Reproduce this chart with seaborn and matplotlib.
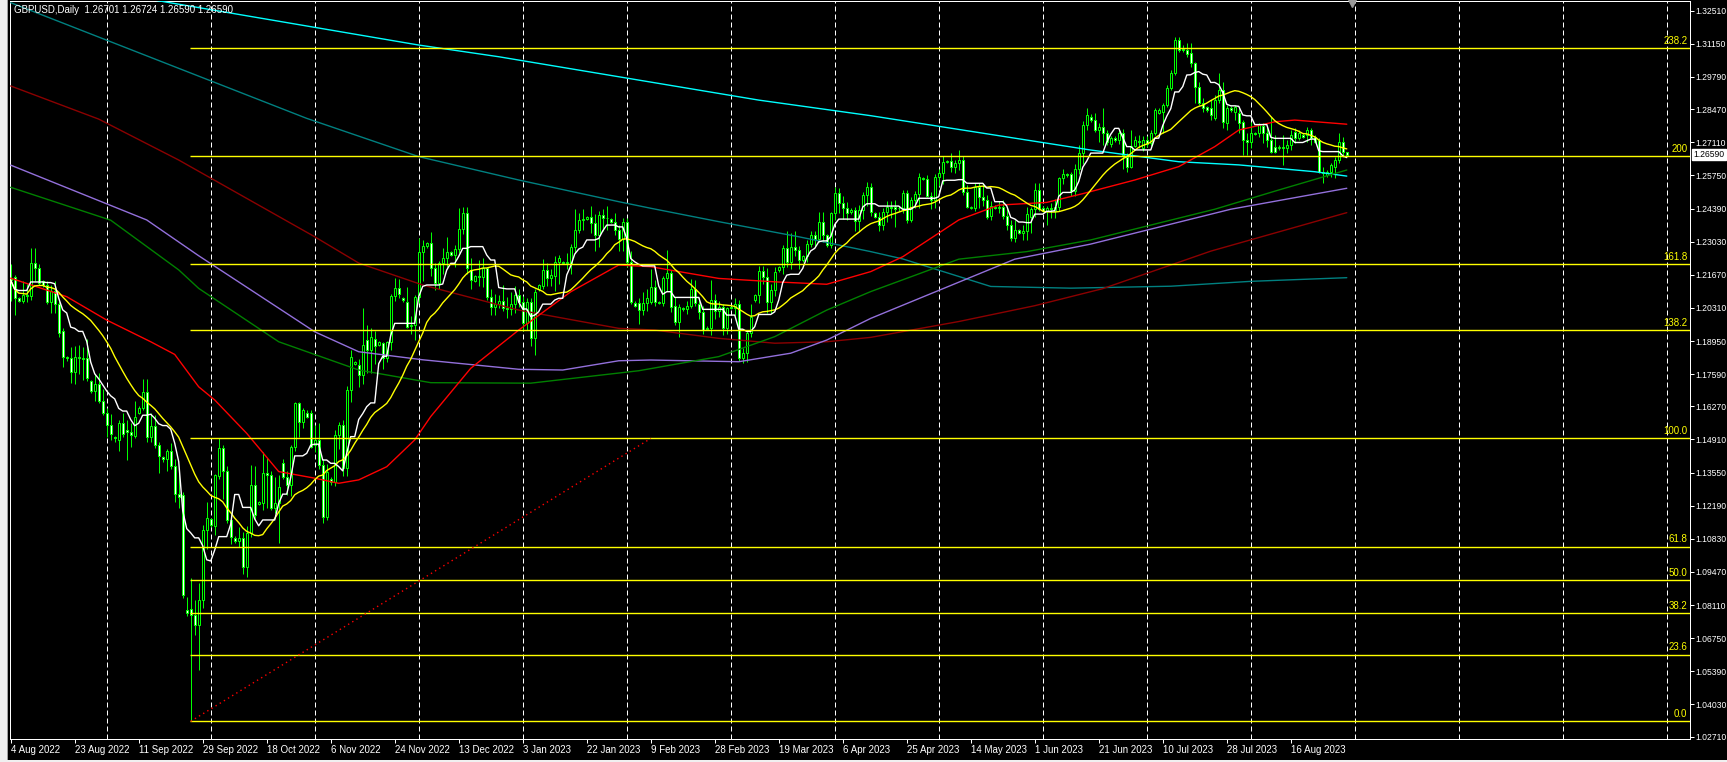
import numpy as np
import pandas as pd
import matplotlib
matplotlib.use("Agg")
from matplotlib import pyplot as plt
import matplotlib.transforms as mtrans
from matplotlib.patches import Rectangle
import seaborn as sns

# daily bars, bar 0 = 4 Aug 2022 (broker has Sunday bars)
opens = [
    1.2150, 1.2159, 1.2070, 1.2060, 1.2085, 1.2078, 1.2215, 1.2195, 1.2140, 1.2125,
    1.2055, 1.2100, 1.2045, 1.1935, 1.1830, 1.1825, 1.1769, 1.1830, 1.1825, 1.1824,
    1.1730, 1.1690, 1.1720, 1.1650, 1.1600, 1.1550, 1.1500, 1.1490, 1.1560, 1.1530,
    1.1520, 1.1505, 1.1600, 1.1620, 1.1686, 1.1500, 1.1545, 1.1470, 1.1420, 1.1410,
    1.1445, 1.1380, 1.1265, 1.1263, 1.0790, 1.0797, 1.0770, 1.0729, 1.0832, 1.1120,
    1.1165, 1.1135, 1.1340, 1.1455, 1.1360, 1.1160, 1.1085, 1.1075, 1.1085, 1.0969,
    1.1106, 1.1304, 1.1225, 1.1230, 1.1352, 1.1345, 1.1210, 1.1229, 1.1393, 1.1338,
    1.1304, 1.1461, 1.1639, 1.1564, 1.1600, 1.1598, 1.1468, 1.1489, 1.1386, 1.1174,
    1.1330, 1.1318, 1.1509, 1.1550, 1.1372, 1.1694, 1.1800, 1.1796, 1.1755, 1.1900,
    1.1858, 1.1905, 1.1880, 1.1886, 1.1824, 1.1892, 1.2080, 1.2111, 1.2070, 1.2057,
    1.1955, 1.1962, 1.2077, 1.2262, 1.2285, 1.2296, 1.2194, 1.2132, 1.2214, 1.2235,
    1.2262, 1.2250, 1.2271, 1.2353, 1.2419, 1.2187, 1.2143, 1.2160, 1.2157, 1.2193,
    1.2077, 1.2036, 1.2048, 1.2058, 1.2030, 1.2025, 1.2045, 1.2085, 1.2057, 1.1968,
    1.2057, 1.1906, 1.2110, 1.2120, 1.2187, 1.2153, 1.2160, 1.2220, 1.2220, 1.2215,
    1.2210, 1.2282, 1.2351, 1.2390, 1.2396, 1.2405, 1.2378, 1.2330, 1.2412, 1.2400,
    1.2395, 1.2385, 1.2350, 1.2315, 1.2385, 1.2220, 1.2050, 1.2050, 1.2022, 1.2050,
    1.2057, 1.2118, 1.2055, 1.2050, 1.2152, 1.2173, 1.2040, 1.1975, 1.2030, 1.2025,
    1.2040, 1.2110, 1.2047, 1.2015, 1.1950, 1.1950, 1.2063, 1.2020, 1.2035, 1.1947,
    1.2035, 1.2032, 1.2045, 1.1824, 1.1846, 1.1926, 1.2063, 1.2084, 1.2184, 1.2159,
    1.2056, 1.2104, 1.2185, 1.2200, 1.2275, 1.2221, 1.2282, 1.2270, 1.2228, 1.2245,
    1.2295, 1.2330, 1.2315, 1.2384, 1.2330, 1.2290, 1.2419, 1.2501, 1.2460, 1.2440,
    1.2425, 1.2433, 1.2389, 1.2433, 1.2494, 1.2529, 1.2420, 1.2405, 1.2370, 1.2426,
    1.2445, 1.2445, 1.2440, 1.2440, 1.2501, 1.2392, 1.2474, 1.2500, 1.2565, 1.2560,
    1.2490, 1.2475, 1.2570, 1.2583, 1.2630, 1.2635, 1.2610, 1.2625, 1.2640, 1.2508,
    1.2440, 1.2440, 1.2528, 1.2488, 1.2475, 1.2410, 1.2445, 1.2440, 1.2445, 1.2410,
    1.2371, 1.2317, 1.2350, 1.2340, 1.2345, 1.2405, 1.2435, 1.2515, 1.2440, 1.2430,
    1.2440, 1.2430, 1.2445, 1.2563, 1.2580, 1.2580, 1.2510, 1.2600, 1.2665, 1.2782,
    1.2816, 1.2802, 1.2762, 1.2775, 1.2748, 1.2704, 1.2727, 1.2720, 1.2750, 1.2652,
    1.2611, 1.2696, 1.2715, 1.2686, 1.2720, 1.2707, 1.2748, 1.2832, 1.2836, 1.2864,
    1.2932, 1.2994, 1.3131, 1.3092, 1.3090, 1.3076, 1.3035, 1.2939, 1.2871, 1.2854,
    1.2850, 1.2809, 1.2884, 1.2926, 1.2791, 1.2850, 1.2836, 1.2830, 1.2795, 1.2720,
    1.2713, 1.2748, 1.2748, 1.2778, 1.2748, 1.2720, 1.2690, 1.2686, 1.2693, 1.2686,
    1.2700, 1.2755, 1.2727, 1.2741, 1.2741, 1.2762, 1.2734, 1.2720, 1.2590, 1.2576,
    1.2590, 1.2611, 1.2638, 1.2713, 1.2670,
]
highs = [
    1.2213, 1.2165, 1.2075, 1.2140, 1.2130, 1.2276, 1.2276, 1.2210, 1.2145, 1.2140,
    1.2125, 1.2140, 1.2060, 1.1950, 1.1835, 1.1872, 1.1875, 1.1880, 1.1870, 1.1905,
    1.1735, 1.1760, 1.1762, 1.1700, 1.1620, 1.1595, 1.1505, 1.1570, 1.1600, 1.1570,
    1.1560, 1.1650, 1.1630, 1.1738, 1.1740, 1.1600, 1.1590, 1.1480, 1.1425, 1.1450,
    1.1475, 1.1410, 1.1375, 1.1275, 1.0845, 1.0921, 1.0830, 1.0900, 1.1140, 1.1236,
    1.1170, 1.1350, 1.1495, 1.1470, 1.1380, 1.1180, 1.1095, 1.1133, 1.1110, 1.1135,
    1.1385, 1.1380, 1.1240, 1.1441, 1.1413, 1.1360, 1.1338, 1.1345, 1.1410, 1.1360,
    1.1470, 1.1646, 1.1646, 1.1622, 1.1610, 1.1610, 1.1550, 1.1560, 1.1410, 1.1390,
    1.1335, 1.1530, 1.1563, 1.1570, 1.1710, 1.1858, 1.1815, 1.1820, 1.2029, 1.1961,
    1.1950, 1.1935, 1.1895, 1.1890, 1.1895, 1.2090, 1.2153, 1.2150, 1.2075, 1.2118,
    1.1998, 1.2085, 1.2317, 1.2309, 1.2300, 1.2344, 1.2215, 1.2225, 1.2275, 1.2320,
    1.2265, 1.2290, 1.2440, 1.2447, 1.2445, 1.2235, 1.2165, 1.2227, 1.2235, 1.2200,
    1.2110, 1.2090, 1.2085, 1.2125, 1.2075, 1.2095, 1.2120, 1.2110, 1.2080, 1.2070,
    1.2070, 1.2110, 1.2130, 1.2230, 1.2215, 1.2190, 1.2245, 1.2247, 1.2225, 1.2255,
    1.2295, 1.2436, 1.2420, 1.2436, 1.2410, 1.2449, 1.2415, 1.2430, 1.2435, 1.2450,
    1.2400, 1.2420, 1.2370, 1.2400, 1.2400, 1.2265, 1.2060, 1.2070, 1.2098, 1.2110,
    1.2190, 1.2145, 1.2060, 1.2160, 1.2269, 1.2185, 1.2075, 1.2045, 1.2035, 1.2060,
    1.2150, 1.2145, 1.2075, 1.2040, 1.1955, 1.2145, 1.2090, 1.2060, 1.2045, 1.2035,
    1.2040, 1.2070, 1.2065, 1.1865, 1.1940, 1.2045, 1.2090, 1.2205, 1.2205, 1.2195,
    1.2130, 1.2200, 1.2205, 1.2290, 1.2345, 1.2337, 1.2345, 1.2285, 1.2250, 1.2310,
    1.2345, 1.2345, 1.2426, 1.2425, 1.2335, 1.2425, 1.2526, 1.2525, 1.2490, 1.2465,
    1.2440, 1.2445, 1.2455, 1.2505, 1.2549, 1.2545, 1.2425, 1.2425, 1.2440, 1.2470,
    1.2470, 1.2475, 1.2450, 1.2515, 1.2515, 1.2485, 1.2510, 1.2583, 1.2570, 1.2575,
    1.2505, 1.2580, 1.2600, 1.2654, 1.2640, 1.2668, 1.2640, 1.2680, 1.2655, 1.2535,
    1.2450, 1.2545, 1.2545, 1.2545, 1.2495, 1.2470, 1.2455, 1.2470, 1.2475, 1.2440,
    1.2390, 1.2390, 1.2355, 1.2370, 1.2445, 1.2445, 1.2545, 1.2545, 1.2450, 1.2450,
    1.2460, 1.2480, 1.2570, 1.2600, 1.2585, 1.2590, 1.2620, 1.2700, 1.2800, 1.2850,
    1.2825, 1.2830, 1.2790, 1.2850, 1.2760, 1.2735, 1.2735, 1.2760, 1.2765, 1.2665,
    1.2762, 1.2735, 1.2741, 1.2735, 1.2735, 1.2760, 1.2850, 1.2850, 1.2871, 1.2946,
    1.3008, 1.3144, 1.3144, 1.3110, 1.3117, 1.3117, 1.3042, 1.2960, 1.2891, 1.2860,
    1.2884, 1.2905, 1.2994, 1.2960, 1.2864, 1.2860, 1.2864, 1.2850, 1.2802, 1.2748,
    1.2795, 1.2755, 1.2789, 1.2789, 1.2775, 1.2816, 1.2741, 1.2700, 1.2741, 1.2720,
    1.2762, 1.2768, 1.2760, 1.2750, 1.2775, 1.2768, 1.2741, 1.2727, 1.2611, 1.2597,
    1.2624, 1.2652, 1.2748, 1.2734, 1.2672,
]
lows = [
    1.2060, 1.2002, 1.2055, 1.2050, 1.2055, 1.2065, 1.2140, 1.2125, 1.2115, 1.2045,
    1.2009, 1.2010, 1.1910, 1.1790, 1.1815, 1.1721, 1.1720, 1.1760, 1.1735, 1.1730,
    1.1680, 1.1650, 1.1640, 1.1590, 1.1500, 1.1490, 1.1480, 1.1445, 1.1500, 1.1405,
    1.1460, 1.1495, 1.1595, 1.1610, 1.1480, 1.1480, 1.1455, 1.1352, 1.1400, 1.1360,
    1.1370, 1.1235, 1.1210, 1.0840, 1.0765, 1.0334, 1.0690, 1.0545, 1.0800, 1.1040,
    1.1130, 1.1100, 1.1330, 1.1245, 1.1150, 1.1060, 1.1065, 1.1050, 1.0940, 1.0925,
    1.1090, 1.1160, 1.1220, 1.1200, 1.1208, 1.1200, 1.1188, 1.1064, 1.1330, 1.1263,
    1.1260, 1.1445, 1.1502, 1.1540, 1.1580, 1.1455, 1.1440, 1.1370, 1.1150, 1.1160,
    1.1305, 1.1300, 1.1450, 1.1340, 1.1340, 1.1646, 1.1795, 1.1708, 1.1720, 1.1765,
    1.1765, 1.1800, 1.1875, 1.1780, 1.1810, 1.1860, 1.2060, 1.2070, 1.2055, 1.1947,
    1.1925, 1.1900, 1.2050, 1.2140, 1.2275, 1.2160, 1.2106, 1.2110, 1.2170, 1.2200,
    1.2245, 1.2200, 1.2255, 1.2335, 1.2170, 1.2110, 1.2138, 1.2120, 1.2118, 1.2065,
    1.2000, 1.2000, 1.2030, 1.2020, 1.1990, 1.2000, 1.2010, 1.2035, 1.1935, 1.1940,
    1.1875, 1.1838, 1.2100, 1.2110, 1.2120, 1.2120, 1.2100, 1.2130, 1.2210, 1.2190,
    1.2170, 1.2255, 1.2340, 1.2350, 1.2390, 1.2340, 1.2265, 1.2280, 1.2345, 1.2350,
    1.2380, 1.2330, 1.2265, 1.2265, 1.2200, 1.2045, 1.2035, 1.1965, 1.2002, 1.2020,
    1.2045, 1.2040, 1.2045, 1.2040, 1.2100, 1.2015, 1.1960, 1.1913, 1.2020, 1.2005,
    1.2030, 1.2040, 1.1985, 1.1925, 1.1940, 1.1920, 1.1985, 1.1995, 1.1920, 1.1925,
    1.2028, 1.2000, 1.1815, 1.1803, 1.1810, 1.1910, 1.2055, 1.2050, 1.2130, 1.2009,
    1.2010, 1.2080, 1.2180, 1.2170, 1.2200, 1.2190, 1.2245, 1.2190, 1.2220, 1.2220,
    1.2280, 1.2285, 1.2300, 1.2300, 1.2280, 1.2275, 1.2390, 1.2419, 1.2395, 1.2390,
    1.2415, 1.2345, 1.2345, 1.2395, 1.2450, 1.2410, 1.2400, 1.2345, 1.2350, 1.2385,
    1.2400, 1.2365, 1.2430, 1.2420, 1.2380, 1.2385, 1.2440, 1.2440, 1.2555, 1.2485,
    1.2435, 1.2440, 1.2530, 1.2540, 1.2625, 1.2590, 1.2585, 1.2597, 1.2495, 1.2440,
    1.2435, 1.2430, 1.2440, 1.2450, 1.2395, 1.2390, 1.2435, 1.2420, 1.2395, 1.2350,
    1.2305, 1.2300, 1.2335, 1.2310, 1.2310, 1.2340, 1.2405, 1.2430, 1.2425, 1.2371,
    1.2400, 1.2400, 1.2430, 1.2540, 1.2570, 1.2490, 1.2490, 1.2580, 1.2620, 1.2760,
    1.2795, 1.2755, 1.2713, 1.2700, 1.2700, 1.2690, 1.2710, 1.2705, 1.2600, 1.2590,
    1.2604, 1.2690, 1.2686, 1.2675, 1.2690, 1.2695, 1.2741, 1.2825, 1.2748, 1.2855,
    1.2926, 1.2987, 1.3083, 1.3083, 1.3062, 1.3021, 1.2871, 1.2864, 1.2836, 1.2836,
    1.2802, 1.2802, 1.2871, 1.2768, 1.2760, 1.2836, 1.2802, 1.2748, 1.2659, 1.2659,
    1.2686, 1.2740, 1.2734, 1.2707, 1.2693, 1.2665, 1.2665, 1.2680, 1.2618, 1.2665,
    1.2679, 1.2707, 1.2720, 1.2730, 1.2713, 1.2700, 1.2707, 1.2583, 1.2542, 1.2570,
    1.2570, 1.2563, 1.2624, 1.2652, 1.2659,
]
closes = [
    1.2145, 1.2070, 1.2060, 1.2085, 1.2078, 1.2215, 1.2195, 1.2135, 1.2125, 1.2055,
    1.2100, 1.2045, 1.1927, 1.1831, 1.1825, 1.1769, 1.1830, 1.1825, 1.1820, 1.1742,
    1.1690, 1.1720, 1.1650, 1.1600, 1.1550, 1.1515, 1.1495, 1.1560, 1.1515, 1.1520,
    1.1510, 1.1585, 1.1620, 1.1686, 1.1503, 1.1545, 1.1470, 1.1425, 1.1410, 1.1445,
    1.1380, 1.1265, 1.1255, 1.0853, 1.0780, 1.0770, 1.0729, 1.0832, 1.1120, 1.1167,
    1.1140, 1.1345, 1.1455, 1.1360, 1.1160, 1.1092, 1.1075, 1.1085, 1.0969, 1.1106,
    1.1304, 1.1181, 1.1236, 1.1352, 1.1345, 1.1208, 1.1229, 1.1297, 1.1338, 1.1304,
    1.1461, 1.1639, 1.1564, 1.1612, 1.1585, 1.1461, 1.1489, 1.1386, 1.1174, 1.1359,
    1.1315, 1.1509, 1.1550, 1.1372, 1.1694, 1.1831, 1.1810, 1.1755, 1.1879, 1.1858,
    1.1910, 1.1876, 1.1890, 1.1824, 1.1892, 1.2080, 1.2111, 1.2090, 1.2065, 1.1954,
    1.1962, 1.2077, 1.2262, 1.2285, 1.2296, 1.2194, 1.2132, 1.2214, 1.2235, 1.2262,
    1.2250, 1.2271, 1.2353, 1.2419, 1.2193, 1.2146, 1.2162, 1.2157, 1.2193, 1.2077,
    1.2036, 1.2048, 1.2058, 1.2030, 1.2025, 1.2045, 1.2085, 1.2057, 1.1968, 1.2057,
    1.1906, 1.2097, 1.2125, 1.2187, 1.2153, 1.2165, 1.2220, 1.2235, 1.2215, 1.2220,
    1.2282, 1.2351, 1.2392, 1.2396, 1.2405, 1.2378, 1.2330, 1.2412, 1.2400, 1.2398,
    1.2385, 1.2350, 1.2315, 1.2385, 1.2220, 1.2055, 1.2040, 1.2022, 1.2050, 1.2070,
    1.2118, 1.2057, 1.2050, 1.2152, 1.2173, 1.2036, 1.1975, 1.2035, 1.2025, 1.2040,
    1.2110, 1.2050, 1.2015, 1.1940, 1.1945, 1.2063, 1.2020, 1.2035, 1.1947, 1.2030,
    1.2032, 1.2045, 1.1824, 1.1846, 1.1926, 1.1995, 1.2084, 1.2184, 1.2159, 1.2056,
    1.2104, 1.2180, 1.2200, 1.2275, 1.2221, 1.2282, 1.2270, 1.2228, 1.2245, 1.2295,
    1.2330, 1.2315, 1.2384, 1.2330, 1.2290, 1.2419, 1.2501, 1.2460, 1.2440, 1.2420,
    1.2433, 1.2389, 1.2433, 1.2494, 1.2528, 1.2426, 1.2405, 1.2370, 1.2426, 1.2445,
    1.2440, 1.2435, 1.2442, 1.2501, 1.2392, 1.2474, 1.2500, 1.2570, 1.2560, 1.2490,
    1.2475, 1.2570, 1.2583, 1.2631, 1.2635, 1.2610, 1.2625, 1.2640, 1.2508, 1.2446,
    1.2445, 1.2528, 1.2488, 1.2475, 1.2406, 1.2450, 1.2440, 1.2445, 1.2410, 1.2371,
    1.2317, 1.2350, 1.2340, 1.2345, 1.2415, 1.2435, 1.2515, 1.2435, 1.2430, 1.2440,
    1.2435, 1.2445, 1.2563, 1.2580, 1.2578, 1.2510, 1.2600, 1.2665, 1.2782, 1.2823,
    1.2802, 1.2762, 1.2775, 1.2748, 1.2713, 1.2727, 1.2720, 1.2748, 1.2659, 1.2611,
    1.2696, 1.2720, 1.2710, 1.2720, 1.2704, 1.2748, 1.2843, 1.2845, 1.2864, 1.2932,
    1.2994, 1.3131, 1.3090, 1.3090, 1.3072, 1.3035, 1.2939, 1.2871, 1.2850, 1.2843,
    1.2823, 1.2884, 1.2926, 1.2795, 1.2850, 1.2845, 1.2854, 1.2791, 1.2720, 1.2713,
    1.2748, 1.2745, 1.2782, 1.2748, 1.2720, 1.2672, 1.2672, 1.2693, 1.2686, 1.2700,
    1.2741, 1.2727, 1.2748, 1.2734, 1.2762, 1.2727, 1.2713, 1.2590, 1.2583, 1.2590,
    1.2618, 1.2638, 1.2713, 1.2672, 1.2659,
]

date_labels = [
    "4 Aug 2022", "23 Aug 2022", "11 Sep 2022", "29 Sep 2022", "18 Oct 2022",
    "6 Nov 2022", "24 Nov 2022", "13 Dec 2022", "3 Jan 2023", "22 Jan 2023",
    "9 Feb 2023", "28 Feb 2023", "19 Mar 2023", "6 Apr 2023", "25 Apr 2023",
    "14 May 2023", "1 Jun 2023", "21 Jun 2023", "10 Jul 2023", "28 Jul 2023",
    "16 Aug 2023",
]
price_labels = [
    "1.32510", "1.31150", "1.29790", "1.28470", "1.27110", "1.25750", "1.24390",
    "1.23030", "1.21670", "1.20310", "1.18950", "1.17590", "1.16270", "1.14910",
    "1.13550", "1.12190", "1.10830", "1.09470", "1.08110", "1.06750", "1.05390",
    "1.04030", "1.02710",
]

# fibonacci tool: anchored on the 26 Sep low and the 4 Oct high
fib_levels = ["0.0", "23.6", "38.2", "50.0", "61.8", "100.0", "138.2", "161.8", "200", "238.2"]
fib_start_bar, fib_end_bar = 45, 160

# moving averages (bar index, price)
red_bars = [0, 14, 24, 35, 41, 47, 51, 59, 67, 76, 82, 87, 94, 101, 105, 115, 127, 140,
            152, 160, 177, 191, 204, 215, 223, 237, 247, 259, 268, 281, 292, 301, 307, 316, 321, 334]
red_vals = [1.2153, 1.2077, 1.1981, 1.1892, 1.1840, 1.1707, 1.1653, 1.1516, 1.1359, 1.1332,
            1.1311, 1.1325, 1.1379, 1.1489, 1.1585, 1.1783, 1.1940, 1.2097, 1.2207, 1.2200,
            1.2152, 1.2138, 1.2128, 1.2180, 1.2241, 1.2392, 1.2453, 1.2464, 1.2500, 1.2556,
            1.2611, 1.2693, 1.2761, 1.2795, 1.2802, 1.2785]
green_bars = [0, 25, 42, 47, 67, 87, 105, 130, 157, 177, 191, 204, 215, 237, 254, 270, 301, 317, 334]
green_vals = [1.2526, 1.2391, 1.2187, 1.2111, 1.1892, 1.1776, 1.1724, 1.1722, 1.1773, 1.1831,
              1.1913, 1.2022, 1.2098, 1.2231, 1.2262, 1.2310, 1.2436, 1.2515, 1.2597]
purple_bars = [0, 34, 47, 76, 87, 103, 127, 138, 152, 160, 182, 195, 204, 215, 251, 270, 305, 334]
purple_vals = [1.2617, 1.2392, 1.2245, 1.1933, 1.1851, 1.1818, 1.1779, 1.1776, 1.1814, 1.1817,
               1.1810, 1.1845, 1.1899, 1.1988, 1.2231, 1.2293, 1.2436, 1.2522]
maroon_bars = [0, 22, 42, 76, 87, 103, 127, 152, 161, 177, 191, 204, 215, 237, 256, 273, 300, 334]
maroon_vals = [1.2942, 1.2806, 1.2638, 1.2323, 1.2215, 1.2125, 1.2022, 1.1947, 1.1940, 1.1906,
               1.1886, 1.1892, 1.1910, 1.1975, 1.2040, 1.2110, 1.2264, 1.2422]
teal_bars = [0, 74, 102, 127, 152, 160, 177, 197, 215, 223, 245, 265, 290, 310, 334]
teal_vals = [1.3284, 1.2809, 1.2652, 1.2556, 1.2467, 1.2440, 1.2385, 1.2323, 1.2262, 1.2232,
             1.2119, 1.2112, 1.2120, 1.2140, 1.2155]
cyan_bars = [34, 102, 122, 187, 215, 270, 292, 307, 326, 334]
cyan_vals = [1.3300, 1.3110, 1.3062, 1.2884, 1.2820, 1.2679, 1.2631, 1.2618, 1.2590, 1.2572]

header = "GBPUSD,Daily  1.26701 1.26724 1.26590 1.26590"
last_price = "1.26590"

# ---------------------------------------------------------------
sns.set_theme(style="dark", rc={"axes.facecolor": "black", "figure.facecolor": "black"})
plt.rcParams["font.family"] = ["Liberation Sans", "DejaVu Sans"]

df = pd.DataFrame({"open": opens, "high": highs, "low": lows, "close": closes})
df["bar"] = np.arange(len(df))
# white: midpoint of the 9 bar close channel, yellow: 21 bar average of closes
df["white"] = (df["close"].rolling(9, min_periods=1).max() + df["close"].rolling(9, min_periods=1).min()) / 2
df["yellow"] = df["close"].rolling(21, min_periods=1).mean()

W, H = 1727, 762
fig = plt.figure(figsize=(W / 100, H / 100), dpi=100)
ax = fig.add_axes([9.5 / W, (H - 739) / H, 1680.5 / W, 738 / H])
ax.set_facecolor("black")
ax.set_xlim(-0.3, 419.8)
ax.set_ylim(1.02613, 1.32908)
px = 0.72  # one pixel in points

# dashed vertical grid
for gx in np.arange(24, 420, 26):
    ax.axvline(gx, color="white", lw=px, linestyle=(0, (5, 3)), zorder=1)

# candles
ax.vlines(df["bar"], df["low"], df["high"], colors="#00ff00", lw=px, zorder=2)
body_lo = df[["open", "close"]].min(axis=1)
body_h = (df["close"] - df["open"]).abs().clip(lower=0.00004)
body_fc = np.where(df["close"] < df["open"], "white", "black")
ax.bar(df["bar"], body_h, bottom=body_lo, width=0.5, color=body_fc,
       edgecolor="#00ff00", linewidth=px, zorder=2.5)

# moving averages
ma_lines = [
    (cyan_bars, cyan_vals, "#00ffff"),
    (teal_bars, teal_vals, "#008080"),
    (maroon_bars, maroon_vals, "#8b0000"),
    (purple_bars, purple_vals, "#9370db"),
    (green_bars, green_vals, "#008000"),
    (red_bars, red_vals, "#ff0000"),
]
for xs, ys, col in ma_lines:
    sns.lineplot(x=xs, y=ys, ax=ax, color=col, lw=1.0, zorder=3)
sns.lineplot(data=df, x="bar", y="yellow", ax=ax, color="#ffff00", lw=1.0, zorder=3)
sns.lineplot(data=df, x="bar", y="white", ax=ax, color="white", lw=1.0, zorder=3)

# fibonacci expansion
fib_low = lows[fib_start_bar]
fib_high = highs[52]
fib_prices = [fib_low + float(l) / 100 * (fib_high - fib_low) for l in fib_levels]
ax.hlines(fib_prices, fib_start_bar - 0.2, 419.8, colors="#ffff00", lw=1.0, zorder=4)
ax.plot([fib_start_bar, fib_end_bar], [fib_low, fib_high], color="#ff0000",
        lw=1.0, linestyle=(0, (1, 2.5)), zorder=4)
for lab, pr in zip(fib_levels, fib_prices):
    ax.annotate(lab, xy=(1.0, pr), xycoords=("axes fraction", "data"),
                xytext=(-2, 1.5), textcoords="offset points",
                ha="right", va="bottom", color="#ffff00", fontsize=7, zorder=5)

# axes styling
for sp in ax.spines.values():
    sp.set_color("white")
    sp.set_linewidth(px)
ax.set_xlabel("")
ax.set_ylabel("")
ax.grid(False)
ax.set_xticks(np.arange(0, 16 * len(date_labels), 16))
ax.set_xticklabels(date_labels, ha="left")
ax.yaxis.tick_right()
ax.set_yticks([float(p) for p in price_labels])
ax.set_yticklabels(price_labels)
ax.tick_params(axis="x", direction="out", length=3, width=px, colors="white",
               labelsize=7, pad=1.5, bottom=True)
ax.tick_params(axis="y", direction="out", length=3, width=px, colors="white",
               labelsize=6.2, pad=0.8, right=True, left=False)

# last price box
trans = mtrans.blended_transform_factory(ax.transAxes, ax.transData)
ax.text(1.0021, float(last_price), last_price, transform=trans, ha="left", va="center",
        fontsize=6.2, color="black", zorder=6, clip_on=False,
        bbox=dict(boxstyle="square,pad=0.12", facecolor="white", edgecolor="white"))

# chart shift marker
ax.plot([335.2], [1.3281], marker="v", color="#9a9a9a", ms=6, clip_on=False, zorder=6)

# header
fig.text(14 / W, 1 - 10 / H, header, ha="left", va="center", color="white", fontsize=7)

# window edges
fig.patches.append(Rectangle((0, 0), 6.5 / W, 1, transform=fig.transFigure,
                             facecolor="#f0f0f0", edgecolor="none"))
fig.patches.append(Rectangle((6.5 / W, 0), 1.2 / W, 1, transform=fig.transFigure,
                             facecolor="#a0a0a0", edgecolor="none"))
fig.patches.append(Rectangle((0, 0), 1, 2 / H, transform=fig.transFigure,
                             facecolor="#f0f0f0", edgecolor="none"))

fig.savefig("out.png", dpi=100, facecolor="black")
